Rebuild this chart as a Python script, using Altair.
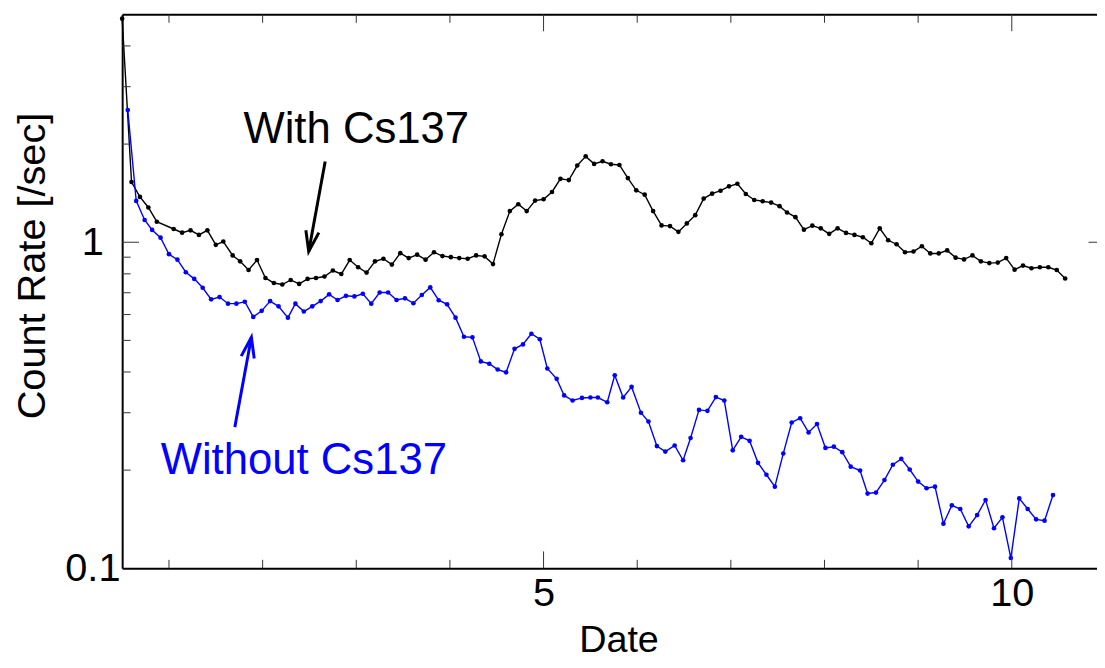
import altair as alt
import pandas as pd

FONT = "Liberation Sans"
W, H = 982, 558

# ---- data (x = date, y = count rate) ----
with_cs = [
    (0.50, 4.85), (0.60, 1.53), (0.69, 1.377), (0.78, 1.278), (0.87, 1.156), (1.05, 1.098),
    (1.14, 1.070), (1.23, 1.088), (1.32, 1.053), (1.41, 1.088), (1.50, 0.982), (1.58, 1.005),
    (1.68, 0.911), (1.76, 0.874), (1.85, 0.822), (1.94, 0.882), (2.03, 0.777), (2.12, 0.750),
    (2.21, 0.742), (2.30, 0.766), (2.39, 0.745), (2.48, 0.772), (2.57, 0.777), (2.66, 0.785),
    (2.75, 0.819), (2.84, 0.799), (2.93, 0.882), (3.02, 0.838), (3.11, 0.807), (3.20, 0.874),
    (3.29, 0.890), (3.38, 0.854), (3.47, 0.926), (3.56, 0.894), (3.65, 0.916), (3.74, 0.884),
    (3.83, 0.932), (3.92, 0.907), (4.01, 0.900), (4.10, 0.894), (4.19, 0.890), (4.28, 0.911),
    (4.37, 0.905), (4.46, 0.857), (4.55, 1.058), (4.64, 1.246), (4.73, 1.308), (4.82, 1.246),
    (4.91, 1.342), (5.00, 1.355), (5.09, 1.426), (5.18, 1.565), (5.27, 1.551), (5.36, 1.719),
    (5.45, 1.834), (5.54, 1.739), (5.63, 1.772), (5.72, 1.735), (5.81, 1.726), (5.90, 1.573),
    (5.99, 1.443), (6.08, 1.399), (6.17, 1.246), (6.26, 1.126), (6.35, 1.121), (6.44, 1.076),
    (6.53, 1.142), (6.62, 1.211), (6.71, 1.361), (6.80, 1.409), (6.89, 1.439), (6.98, 1.484),
    (7.07, 1.511), (7.16, 1.406), (7.25, 1.348), (7.34, 1.336), (7.43, 1.323), (7.52, 1.290),
    (7.60, 1.234), (7.69, 1.194), (7.78, 1.093), (7.87, 1.124), (7.96, 1.103), (8.05, 1.061),
    (8.14, 1.103), (8.23, 1.068), (8.32, 1.053), (8.41, 1.036), (8.50, 0.993), (8.59, 1.103),
    (8.68, 1.014), (8.77, 0.986), (8.86, 0.932), (8.95, 0.937), (9.04, 0.972), (9.13, 0.924),
    (9.22, 0.924), (9.31, 0.944), (9.40, 0.897), (9.49, 0.886), (9.58, 0.911), (9.67, 0.874),
    (9.76, 0.863), (9.85, 0.866), (9.94, 0.894), (10.03, 0.824), (10.12, 0.848), (10.21, 0.832),
    (10.30, 0.838), (10.39, 0.838), (10.48, 0.822), (10.57, 0.774),
]

without_cs = [
    (0.56, 2.544), (0.65, 1.339), (0.74, 1.170), (0.82, 1.091), (0.91, 1.033), (1.00, 0.919),
    (1.09, 0.884), (1.18, 0.809), (1.27, 0.772), (1.36, 0.725), (1.45, 0.668), (1.54, 0.679),
    (1.63, 0.648), (1.72, 0.648), (1.81, 0.657), (1.90, 0.590), (1.99, 0.616), (2.08, 0.660),
    (2.17, 0.636), (2.27, 0.587), (2.35, 0.648), (2.44, 0.613), (2.53, 0.636), (2.62, 0.660),
    (2.71, 0.692), (2.80, 0.665), (2.89, 0.685), (2.98, 0.682), (3.07, 0.695), (3.16, 0.648),
    (3.25, 0.701), (3.34, 0.701), (3.43, 0.665), (3.52, 0.673), (3.61, 0.650), (3.70, 0.689),
    (3.79, 0.727), (3.88, 0.664), (3.97, 0.645), (4.06, 0.587), (4.15, 0.513), (4.24, 0.511),
    (4.33, 0.431), (4.42, 0.424), (4.51, 0.407), (4.60, 0.399), (4.69, 0.471), (4.78, 0.486),
    (4.87, 0.524), (4.96, 0.504), (5.04, 0.410), (5.14, 0.381), (5.22, 0.339), (5.31, 0.327),
    (5.41, 0.333), (5.50, 0.334), (5.58, 0.334), (5.68, 0.323), (5.76, 0.391), (5.85, 0.334),
    (5.94, 0.360), (6.04, 0.300), (6.12, 0.282), (6.21, 0.237), (6.30, 0.228), (6.40, 0.238),
    (6.49, 0.2145), (6.57, 0.251), (6.66, 0.306), (6.75, 0.304), (6.84, 0.335), (6.93, 0.327),
    (7.02, 0.230), (7.11, 0.253), (7.20, 0.246), (7.29, 0.2106), (7.38, 0.1936), (7.47, 0.178),
    (7.56, 0.225), (7.65, 0.280), (7.74, 0.2885), (7.83, 0.261), (7.92, 0.277), (8.01, 0.234),
    (8.10, 0.236), (8.19, 0.227), (8.28, 0.205), (8.38, 0.1995), (8.46, 0.1695), (8.55, 0.1707),
    (8.64, 0.1865), (8.73, 0.2077), (8.82, 0.2166), (8.91, 0.2009), (9.00, 0.1845), (9.09, 0.176),
    (9.18, 0.178), (9.27, 0.137), (9.36, 0.156), (9.45, 0.152), (9.54, 0.1345), (9.63, 0.1456),
    (9.72, 0.162), (9.81, 0.1327), (9.90, 0.1433), (9.99, 0.1075), (10.08, 0.1638), (10.17, 0.152),
    (10.26, 0.1413), (10.35, 0.140), (10.44, 0.1677),
]

x_domain = [0.5, 10.91]
y_domain = [0.1, 5]
x_labels = [5, 10]
x_minor = [1, 2, 3, 4, 6, 7, 8, 9]
y_labels = [0.1, 1]
y_major = [1]
y_minor = [0.2, 0.3, 0.4, 0.5, 0.6, 0.7, 0.8, 0.9, 2, 3, 4]

# annotations (data coordinates)
label_text = ["With Cs137", "Without Cs137"]
label_x = [3.0, 2.44]
label_y = [2.02, 0.194]
label_color = ["#000000", "#0000ff"]
arrow_tail_x = [2.668, 1.703]
arrow_tail_y = [1.768, 0.271]
arrow_tip_x = [2.492, 1.880]
arrow_tip_y = [0.937, 0.511]
arrow_angle = [190.4, 10.4]

xs = alt.Scale(domain=x_domain, nice=False, zero=False)
ys = alt.Scale(type="log", domain=y_domain, nice=False)

df_with = pd.DataFrame(with_cs, columns=["x", "y"])
df_without = pd.DataFrame(without_cs, columns=["x", "y"])

bottom_axis = alt.Axis(
    orient="bottom", values=x_labels, format="d", grid=False, ticks=False, tickSize=0,
    domain=True, domainColor="#000000", domainWidth=2,
    labelFont=FONT, labelFontSize=40, labelColor="#000000", labelAlign="center",
    labelBaseline="alphabetic", labelPadding=37, labelFlush=False, labelOverlap=False,
    title="Date", titleFont=FONT, titleFontSize=38, titleFontWeight="normal",
    titleColor="#000000", titleX=500, titleY=84, titleAlign="center",
    titleBaseline="alphabetic",
)
left_axis = alt.Axis(
    orient="left", values=y_labels, format="~g", grid=False, ticks=False, tickSize=0,
    domain=True, domainColor="#000000", domainWidth=2,
    labelFont=FONT, labelFontSize=40, labelColor="#000000", labelAlign="center",
    labelBaseline="middle", labelPadding=30, labelFlush=False, labelOverlap=False,
    title="Count Rate [/sec]", titleFont=FONT, titleFontSize=40, titleFontWeight="normal",
    titleColor="#000000", titleX=-90, titleY=253, titleAngle=270, titleAlign="center",
    titleBaseline="middle",
)
top_axis = alt.Axis(
    orient="top", labels=False, ticks=False, tickSize=0, grid=False, domain=True,
    domainColor="#000000", domainWidth=2, title=None,
)

line_with = alt.Chart(df_with).mark_line(
    color="#000000", strokeWidth=1.4,
    point=alt.OverlayMarkDef(filled=True, size=22, color="#000000"),
).encode(
    x=alt.X("x:Q", scale=xs, axis=bottom_axis),
    y=alt.Y("y:Q", scale=ys, axis=left_axis),
)

line_without = alt.Chart(df_without).mark_line(
    color="#0000ff", strokeWidth=1.4,
    point=alt.OverlayMarkDef(filled=True, size=22, color="#0000ff"),
).encode(
    x=alt.X("x:Q", scale=xs, axis=top_axis),
    y=alt.Y("y:Q", scale=ys, axis=None),
)

TICK_COLOR = "#333333"
df_xmaj = pd.DataFrame({"v": x_labels})
df_xmin = pd.DataFrame({"v": x_minor})
df_ymaj = pd.DataFrame({"v": y_major})
df_ymin = pd.DataFrame({"v": y_minor})


def xticks(df, y0, y1):
    return alt.Chart(df).mark_rule(color=TICK_COLOR, strokeWidth=1).encode(
        x=alt.X("v:Q", scale=xs, axis=None), y=alt.value(y0), y2=alt.value(y1)
    )


def yticks(df, x0, x1):
    return alt.Chart(df).mark_rule(color=TICK_COLOR, strokeWidth=1).encode(
        y=alt.Y("v:Q", scale=ys, axis=None), x=alt.value(x0), x2=alt.value(x1)
    )


tick_layers = [
    xticks(df_xmaj, H, H - 17), xticks(df_xmin, H, H - 8.5),
    xticks(df_xmaj, 0, 17), xticks(df_xmin, 0, 8.5),
    yticks(df_ymaj, 0, 17), yticks(df_ymin, 0, 8.5),
]

# right-hand frame sits just outside the picture (at x = 11); its tick pokes in
df_rtick = pd.DataFrame({"v": y_major, "x0": [11.0], "x1": [10.82]})
right_tick = alt.Chart(df_rtick).mark_rule(color=TICK_COLOR, strokeWidth=1).encode(
    y=alt.Y("v:Q", scale=ys, axis=None),
    x=alt.X("x0:Q", scale=xs, axis=None),
    x2="x1:Q",
)

df_lab = pd.DataFrame({"x": label_x, "y": label_y, "t": label_text, "c": label_color})
labels = alt.Chart(df_lab).mark_text(
    font=FONT, fontSize=44, align="center", baseline="alphabetic"
).encode(
    x=alt.X("x:Q", scale=xs, axis=None),
    y=alt.Y("y:Q", scale=ys, axis=None),
    text="t:N",
    color=alt.Color("c:N", scale=None),
)

df_arr = pd.DataFrame({
    "x": arrow_tail_x, "y": arrow_tail_y, "x2": arrow_tip_x, "y2": arrow_tip_y,
    "a": arrow_angle, "c": label_color,
})
shafts = alt.Chart(df_arr).mark_rule(strokeWidth=3).encode(
    x=alt.X("x:Q", scale=xs, axis=None),
    y=alt.Y("y:Q", scale=ys, axis=None),
    x2="x2:Q", y2="y2:Q",
    color=alt.Color("c:N", scale=None),
)
heads = alt.Chart(df_arr).mark_point(
    shape="M-0.65,2L0,0L0.65,2", filled=False, strokeWidth=3, size=420, opacity=1,
).encode(
    x=alt.X("x2:Q", scale=xs, axis=None),
    y=alt.Y("y2:Q", scale=ys, axis=None),
    angle=alt.Angle("a:Q", scale=None),
    stroke=alt.Stroke("c:N", scale=None),
)

chart = alt.layer(
    line_with, line_without, *tick_layers, right_tick, shafts, heads, labels
).resolve_axis(
    x="independent", y="independent"
).properties(
    width=W, height=H,
    autosize=alt.AutoSizeParams(type="none"),
    padding={"left": 115, "top": 4, "right": 0, "bottom": 90},
    background="#ffffff",
).configure_view(stroke=None)

chart.save("out.html", embed_options={"renderer": "svg", "actions": False})
